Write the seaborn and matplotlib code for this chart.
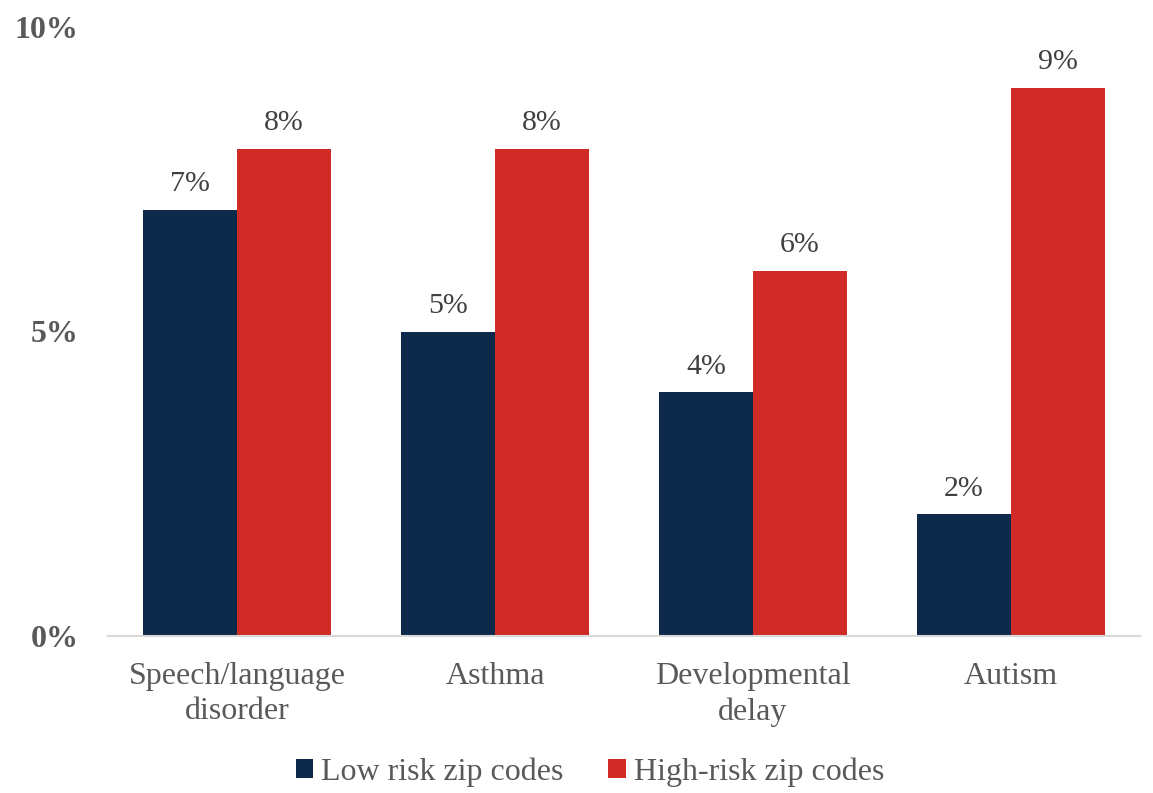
import matplotlib
matplotlib.use("Agg")
import matplotlib.pyplot as plt
from matplotlib.ticker import FuncFormatter
import seaborn as sns
import pandas as pd

conditions = ["Speech/language\ndisorder", "Asthma", "Developmental\ndelay", "Autism"]
groups = ["Low risk zip codes", "High-risk zip codes"]
low_risk = [7, 5, 4, 2]
high_risk = [8, 8, 6, 9]
colors = ["#0E2A4A", "#D12B27"]
text_gray = "#595959"

df = pd.DataFrame({
    "condition": conditions * 2,
    "group": [groups[0]] * len(conditions) + [groups[1]] * len(conditions),
    "value": [v / 100 for v in low_risk + high_risk],
})

sns.set_theme(style="white")
plt.rcParams["font.family"] = ["Liberation Serif", "DejaVu Serif"]

fig = plt.figure(figsize=(11.53, 7.93), dpi=100)
ax = fig.add_axes([108 / 1153, 157 / 793, (1140 - 108) / 1153, (636 - 27) / 793])

sns.barplot(data=df, x="condition", y="value", hue="group", hue_order=groups,
            palette=colors, width=0.73, gap=0, linewidth=0, saturation=1, ax=ax)

ax.set_xlim(-0.5, 3.5)
ax.set_ylim(0, 0.10)
ax.set_yticks([0, 0.05, 0.10])
ax.yaxis.set_major_formatter(FuncFormatter(lambda v, _: f"{v * 100:.0f}%"))
ax.set_xlabel("")
ax.set_ylabel("")

for side in ["top", "right", "left"]:
    ax.spines[side].set_visible(False)
ax.spines["bottom"].set_color("#D9D9D9")
ax.spines["bottom"].set_linewidth(1.5)

ax.tick_params(axis="x", length=0, pad=19, labelsize=23, labelcolor=text_gray)
ax.tick_params(axis="y", length=0, pad=21, labelsize=23, labelcolor=text_gray)
for lbl in ax.get_yticklabels():
    lbl.set_fontweight("bold")
for lbl in ax.get_xticklabels():
    lbl.set_linespacing(1.25)

for container in ax.containers:
    ax.bar_label(container, labels=[f"{b.get_height() * 100:.0f}%" for b in container],
                 padding=9, fontsize=21.5, color="#404040")

handles, labels = ax.get_legend_handles_labels()
ax.legend(handles, labels, loc="center", bbox_to_anchor=(590 / 1153, 21 / 793),
          bbox_transform=fig.transFigure, ncol=2, frameon=False, fontsize=23,
          labelcolor=text_gray, handlelength=0.55, handleheight=0.55,
          handletextpad=0.25, columnspacing=1.4)

fig.savefig("out.png", dpi=100)
